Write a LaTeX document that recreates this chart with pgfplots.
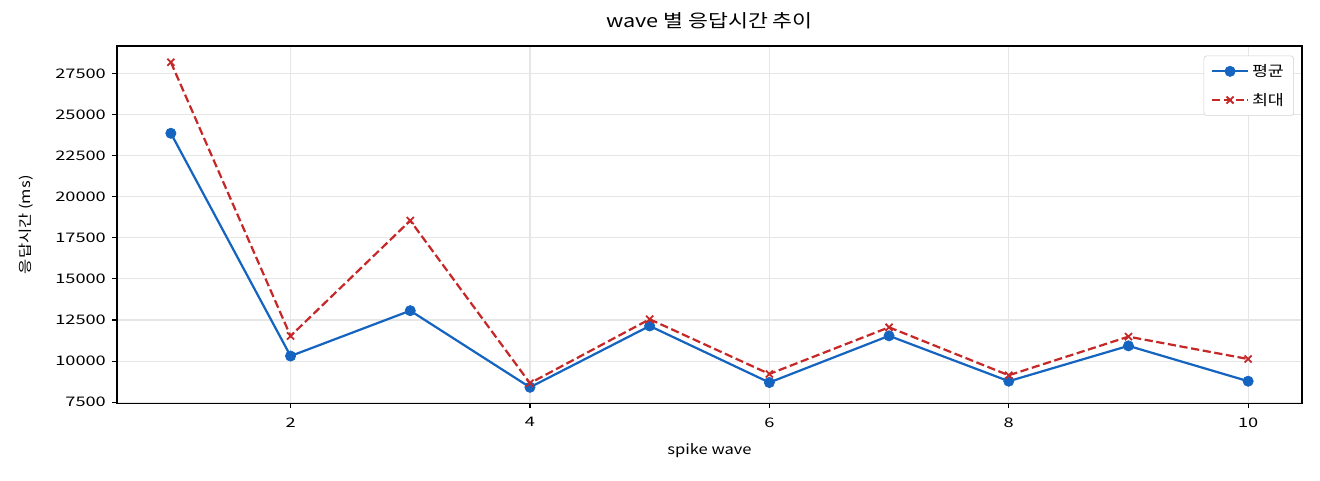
\documentclass[border=0pt]{standalone}
\usepackage{fontspec}
\setmainfont[FakeStretch=1.19]{Noto Sans CJK KR}
\newfontfamily\tickfont[FakeStretch=1.38]{Noto Sans CJK KR}
\newfontfamily\titlefont[FakeStretch=1.2]{Noto Sans CJK KR}
\usepackage{pgfplots}
\pgfplotsset{compat=1.18}
\definecolor{cblue}{HTML}{1565C0}
\definecolor{cred}{HTML}{C62828}
\definecolor{cgrid}{HTML}{E6E6E6}
\begin{document}
\begin{tikzpicture}
\useasboundingbox (0,0) rectangle (950.4pt,345.6pt);
\begin{axis}[
  at={(84.24pt,55.08pt)}, anchor=south west,
  scale only axis, width=853.2pt, height=257.4pt,
  xmin=0.55, xmax=10.45, ymin=7424, ymax=29168,
  xtick={2,4,6,8,10},
  ytick={7500,10000,12500,15000,17500,20000,22500,25000,27500},
  /pgf/number format/assume math mode=true,
  scaled y ticks=false,
  yticklabel style={/pgf/number format/fixed,/pgf/number format/1000 sep={}, xshift=-1pt},
  xticklabel style={yshift=-3pt},
  ticklabel style={font=\tickfont\fontsize{9.5}{11}\selectfont},
  tick align=outside, tick pos=left, major tick length=3.5pt,
  tick style={black, line width=0.8pt},
  axis line style={line width=0.8pt},
  grid=major, grid style={cgrid, line width=0.8pt},
  title={wave 별 응답시간 추이},
  title style={font=\titlefont\fontsize{13}{15}\selectfont, at={(axis description cs:0.5,1.047)}, anchor=center},
  xlabel={spike wave},
  xlabel style={at={(axis description cs:0.5,-0.1329)}, anchor=center},
  ylabel={응답시간 (ms)},
  ylabel style={at={(axis description cs:-0.0768,0.5)}, anchor=center, rotate=0},
  label style={font=\fontsize{10}{12}\selectfont},
  legend style={at={(0.9932,0.973)}, anchor=north east, draw=cgrid!80!gray, rounded corners=2pt,
    font=\fontsize{10.5}{12}\selectfont, row sep=6.5pt, inner xsep=5pt, inner ysep=4pt},
  legend cell align=left,
  legend image code/.code={
    \draw[mark repeat=2,mark phase=2,#1] plot coordinates {(0pt,0pt) (13pt,0pt) (26pt,0pt)};
  },
]
\addplot[cblue, line width=1.6pt, mark=*, mark size=3.7pt, mark options={solid, fill=cblue, line width=0.5pt}]
 coordinates {(1,23860) (2,10310) (3,13070) (4,8410) (5,12140) (6,8700) (7,11540) (8,8780) (9,10930) (10,8780)};
\addlegendentry{평균}
\addplot[cred, line width=1.6pt, dash pattern=on 5.9pt off 2.6pt, mark=x, mark size=3.6pt, mark options={solid, line width=1.3pt}]
 coordinates {(1,28180) (2,11530) (3,18550) (4,8660) (5,12550) (6,9220) (7,12060) (8,9140) (9,11490) (10,10130)};
\addlegendentry{최대}
\end{axis}
\end{tikzpicture}
\end{document}
